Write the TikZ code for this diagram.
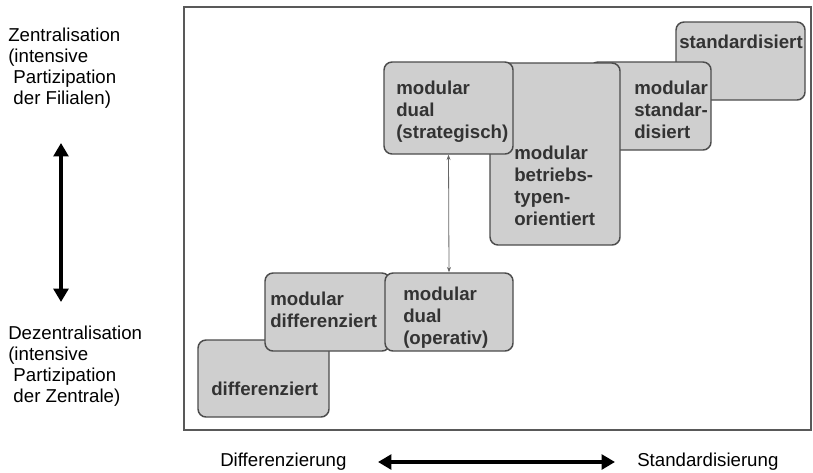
\documentclass[tikz,border=0pt]{standalone}
\usepackage{fontspec}
\setmainfont{Liberation Sans}
\usetikzlibrary{arrows.meta,fit}

\tikzset{
	feld/.style={draw=black!70, line width=1.1pt, fill=black!19, rounded corners=6pt, inner sep=0pt},
	feldtext/.style={anchor=north west, align=left, inner sep=0pt, text=black!80, font=\bfseries\fontsize{14}{16.5}\selectfont},
	seite/.style={anchor=north west, align=left, inner sep=0pt, font=\fontsize{14}{15.75}\selectfont},
	achse/.style={anchor=west, inner sep=0pt, font=\fontsize{14}{15.75}\selectfont},
	pfeil/.style={line width=3pt, {Triangle[length=10pt,width=11pt]}-{Triangle[length=10pt,width=11pt]}},
}

\begin{document}
\begin{tikzpicture}[x=0.75pt,y=-0.75pt]
	\useasboundingbox (0,0) rectangle (813,472);
	\draw[black!65, line width=1pt] (184,7) rectangle (811,430);

	% obere Felder, von hinten nach vorne
	\node[feld, fit={(676,22) (805,100)}] (std) {};
	\node[feldtext] (std-t) at (679,35) {standardisiert};
	\node[feld, fit={(590,62) (711,150)}] (modstd) {};
	\node[feldtext] (modstd-t) at (634,80.5) {modular\\standar-\\disiert};
	\node[feld, fit={(490,63) (620,245)}] (betr) {};
	\node[feldtext] (betr-t) at (514,145.5) {modular\\betriebs-\\typen-\\orientiert};
	\node[feld, fit={(384,62) (513,154)}] (strat) {};
	\node[feldtext] (strat-t) at (396,80.5) {modular\\dual\\(strategisch)};

	% untere Felder
	\node[feld, fit={(198,340) (329,417)}] (diff) {};
	\node[feldtext] (diff-t) at (211,381.5) {differenziert};
	\node[feld, fit={(265,273) (390,351)}] (moddiff) {};
	\node[feldtext] (moddiff-t) at (270,291.5) {modular\\differenziert};
	\node[feld, fit={(385,273) (513,351)}] (oper) {};
	\node[feldtext] (oper-t) at (403,286.5) {modular\\dual\\(operativ)};

	\draw[black!60, line width=0.6pt, {Stealth[length=4pt,width=3pt]}-{Stealth[length=4pt,width=3pt]}] (strat.south) -- (oper.north);

	% Achsen
	\node[seite] (zentral) at (8,28) {Zentralisation\\(intensive\\\hspace*{0.28em}Partizipation\\\hspace*{0.28em}der Filialen)};
	\node[seite] (dezentral) at (8,325.5) {Dezentralisation\\(intensive\\\hspace*{0.28em}Partizipation\\\hspace*{0.28em}der Zentrale)};
	\coordinate (v-oben) at (61,143);
	\coordinate (v-unten) at (61,302);
	\draw[pfeil] (v-oben) -- (v-unten);

	\node[achse] (differenzierung) at (220,462) {Differenzierung};
	\node[achse] (standardisierung) at (637,462) {Standardisierung};
	\coordinate (h-links) at (378,462);
	\coordinate (h-rechts) at (615,462);
	\draw[pfeil] (h-links) -- (h-rechts);
\end{tikzpicture}
\end{document}
